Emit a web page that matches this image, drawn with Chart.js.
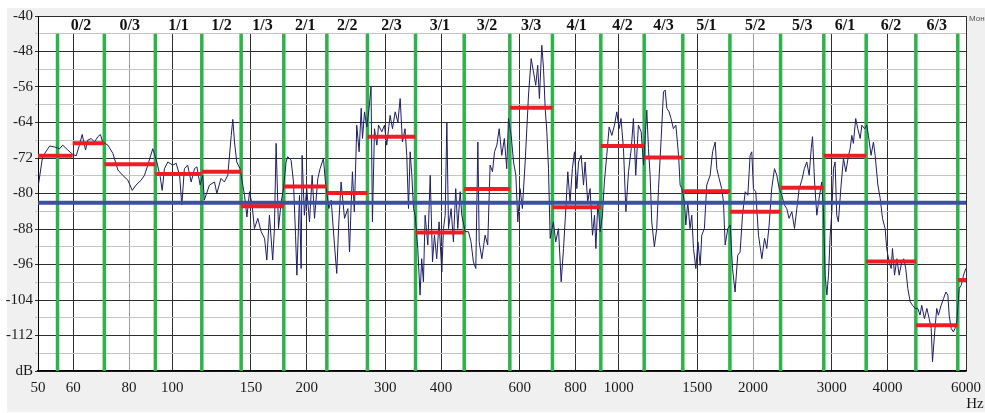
<!DOCTYPE html>
<html>
<head>
<meta charset="utf-8">
<script src="https://cdn.jsdelivr.net/npm/chart.js@4.4.1/dist/chart.umd.min.js"></script>
<style>
  html, body { margin: 0; padding: 0; background: #fff; }
  #wrap { width: 985px; height: 413px; }
  canvas { display: block; }
</style>
</head>
<body>
<div id="wrap"><canvas id="chart" width="985" height="413"></canvas></div>
<script>
// Bandas: etiquetas y bordes (Hz)
const bandLabels = ['0/2', '0/3', '1/1', '1/2', '1/3', '2/1', '2/2', '2/3', '3/1', '3/2',
                    '3/3', '4/1', '4/2', '4/3', '5/1', '5/2', '5/3', '6/1', '6/2', '6/3'];
const bandEdges = [55.3, 70.4, 91.6, 116.4, 142.6, 177.7, 221.9, 273.6, 350.6, 450.7, 570.3,
                   710.5, 911.9, 1140.5, 1392, 1775, 2305, 2881, 3585, 4632, 5751];

// Niveles medios (segmentos rojos): bordes en Hz y nivel en dB
const levelEdges = [50, 59.8, 70.4, 91.6, 116.4, 142.6, 177.7, 221.9, 273.6, 350.6, 450.7, 570.3,
                    710.5, 911.9, 1140.5, 1392, 1775, 2305, 2881, 3585, 4632, 5751, 6000];
const levelValues = [-71.5, -68.7, -73.4, -75.6, -75.1, -82.9, -78.4, -79.9, -67.2, -88.8, -79.0,
                     -60.7, -83.1, -69.3, -71.9, -79.5, -84.1, -78.7, -71.5, -95.3, -109.7, -99.5];

// Nivel de referencia (linea azul)
const referenceLevel = -82.1;

// Ejes
const xTicks = [50, 60, 80, 100, 150, 200, 300, 400, 600, 800, 1000, 1500, 2000, 3000, 4000, 6000];
const xLightTicks = [80, 2000];
const yMin = -120, yMax = -40, yStripLevel = -44;

// Espectro
const spectrumHz = [
  50.1, 51.2, 53.1, 54.4, 55.9, 56.8, 58.3, 59.8, 60.9, 61.9, 62.8, 63.9, 64.6, 65.8, 66.9, 68.1,
  69.0, 69.8, 71.7, 73.6, 75.5, 77.4, 79.5, 81.3, 82.9, 85.1, 86.6, 88.1, 90.4, 92.3, 93.9, 94.9,
  96.0, 97.7, 100.2, 102.0, 103.8, 105.0, 106.4, 108.2, 110.2, 112.1, 113.5, 115.4, 117.0, 117.9,
  121.1, 124.3, 125.8, 128.5, 130.8, 133.1, 135.5, 136.6, 137.8, 139.4, 141.8, 145.1, 146.9, 148.9,
  150.9, 152.7, 155.4, 158.1, 160.9, 162.8, 165.0, 167.8, 169.3, 170.8, 172.9, 175.3, 177.4, 179.8,
  181.3, 184.5, 186.8, 188.8, 190.1, 192.7, 194.3, 195.3, 197.6, 200.0, 202.9, 205.7, 208.2, 211.8,
  214.3, 218.0, 220.3, 224.2, 226.9, 230.8, 233.5, 235.9, 238.8, 243.1, 247.3, 249.4, 251.5,
  253.2, 255.7, 257.5, 258.9, 262.1, 264.9, 266.7, 269.5, 272.7, 275.9, 278.7, 280.7, 283.7, 287.2,
  289.7, 294.7, 298.7, 302.2, 307.5, 311.3, 315.7, 320.1, 323.9, 327.7, 332.1, 335.1, 338.1, 341.0,
  344.0, 347.0, 350.0, 354.7, 358.9, 361.9, 365.2, 368.4, 373.6, 378.2, 382.7, 386.6, 391.1, 395.9,
  401.5, 405.0, 408.6, 412.1, 415.6, 421.3, 426.3, 431.4, 436.0, 441.4, 445.2, 452.9, 460.7, 466.8,
  472.6, 478.5, 483.6, 486.9, 493.6, 502.0, 508.8, 515.1, 521.5, 527.0, 533.4, 539.8, 547.1, 554.4,
  561.3, 566.3, 574.3, 581.3, 588.3, 594.2, 601.2, 608.5, 617.2, 622.6, 628.0, 636.7, 644.3, 651.9,
  658.5, 664.3, 672.6, 678.5, 684.4, 690.3, 696.2, 702.2, 714.0, 722.6, 733.0, 743.3, 752.3, 761.4,
  769.1, 778.1, 787.5, 796.0, 805.8, 812.9, 824.1, 834.0, 841.0, 852.2, 862.8, 873.6, 882.8, 888.9,
  898.1, 908.8, 919.6, 928.8, 940.3, 952.0, 965.3, 978.6, 990.3, 1002, 1012, 1025, 1038, 1052,
  1067, 1079, 1092, 1107, 1123, 1137, 1147, 1156, 1166, 1176, 1186, 1202, 1217,
  1228, 1245, 1260, 1271, 1282, 1297, 1310, 1326, 1343, 1362, 1373, 1385, 1404, 1414, 1428, 1445,
  1458, 1471, 1489, 1505, 1523, 1535, 1556, 1575, 1603, 1623, 1645, 1659, 1679, 1701, 1717, 1732,
  1756, 1778, 1799, 1823, 1848, 1871, 1894, 1921, 1947, 1970, 1987, 2004, 2028, 2057, 2093, 2122,
  2147, 2173, 2202, 2234, 2261, 2289, 2320, 2352, 2380, 2408, 2443, 2477, 2507, 2537, 2572, 2606,
  2639, 2672, 2700, 2718, 2747, 2779, 2812, 2850, 2876, 2901, 2927, 2952, 2978, 3003, 3029, 3054,
  3080, 3106, 3150, 3189, 3228, 3273, 3301, 3329, 3356, 3397, 3433, 3476, 3506, 3555, 3597, 3627,
  3676, 3722, 3755, 3808, 3854, 3900, 3953, 3986, 4034, 4078, 4106, 4150, 4200, 4250, 4308, 4351,
  4397, 4444, 4499, 4554, 4616, 4679, 4734, 4774, 4843, 4903, 4962, 5014, 5048, 5099, 5159, 5203,
  5277, 5343, 5408, 5464, 5501, 5557, 5623, 5670, 5721, 5792, 5853, 5924, 5995
];
const spectrumDb = [
  -78.1, -71.7, -69.3, -69.5, -69.9, -69.1, -70.2, -71.2, -71.5, -69.1, -66.7, -70.2, -68.0, -67.6, -68.4, -67.2,
  -66.7, -68.4, -69.1, -71.0, -74.7, -75.9, -77.0, -79.3, -78.1, -77.0, -75.9, -73.6, -69.9, -72.9, -76.2, -79.3,
  -74.4, -72.9, -73.6, -73.2, -75.9, -82.6, -74.4, -73.6, -77.4, -74.4, -74.0, -78.1, -75.9, -81.5,
  -78.1, -77.4, -80.0, -76.6, -77.4, -75.9, -66.9, -63.3, -68.4, -72.9, -74.4, -80.4, -85.3, -79.6,
  -82.6, -87.9, -85.6, -88.6, -90.1, -95.0, -84.9, -95.0, -87.9, -68.7, -87.9, -81.9, -78.9, -72.9,
  -71.7, -72.5, -77.4, -89.4, -98.4, -80.4, -96.9, -71.4, -84.9, -78.9, -86.4, -75.9, -85.6, -76.6,
  -74.4, -72.1, -77.4, -83.4, -81.5, -91.6, -98.0, -87.1, -77.4, -85.6, -83.4, -93.2, -82.6,
  -75.1, -84.1, -73.6, -64.6, -70.6, -60.8, -67.6, -61.6, -65.0, -60.8, -56.0, -86.4, -65.4, -69.1,
  -64.6, -66.1, -64.6, -69.1, -62.4, -65.4, -61.6, -63.9, -58.6, -68.4, -65.4, -71.4, -83.4, -70.6,
  -75.9, -83.4, -84.9, -92.4, -102.9, -94.7, -99.9, -84.9, -91.6, -75.9, -95.4, -89.4, -94.7, -86.4,
  -97.7, -87.9, -84.9, -63.9, -87.9, -83.4, -90.9, -78.9, -87.9, -79.6, -84.9, -88.6, -88.6, -90.9,
  -95.4, -96.9, -68.4, -90.9, -94.7, -89.4, -91.6, -73.6, -75.1, -70.6, -69.1, -65.4, -71.4, -67.6,
  -74.4, -63.1, -66.9, -72.9, -75.9, -86.4, -78.9, -83.4, -72.9, -65.4, -57.8, -49.6, -52.6, -55.6,
  -51.1, -58.6, -46.6, -51.8, -60.8, -66.1, -74.4, -90.1, -86.4, -90.9, -87.9, -99.9, -92.4, -83.4,
  -75.1, -81.9, -74.4, -70.6, -78.9, -72.9, -71.4, -78.1, -72.9, -81.9, -78.9, -89.4, -84.9, -92.4,
  -81.9, -88.6, -84.9, -77.4, -71.4, -65.0, -66.9, -64.6, -61.6, -65.4, -63.1, -69.9, -84.1, -75.1,
  -69.9, -63.1, -75.9, -64.6, -66.1, -73.6, -66.9, -61.2, -69.9, -75.9, -86.4, -92.0, -87.9,
  -78.9, -67.6, -57.1, -56.7, -60.8, -61.6, -63.1, -65.4, -64.6, -71.4, -78.1, -78.9, -81.9, -87.1, -81.9, -87.9,
  -84.9, -92.4, -96.9, -90.9, -96.2, -89.4, -87.9, -78.1, -75.9, -70.6, -68.4, -74.4, -76.6, -78.9, -81.9, -91.6,
  -87.9, -87.1, -96.9, -102.2, -93.9, -93.2, -84.9, -79.6, -80.4, -71.4, -70.6, -78.9, -79.6, -89.4, -94.7, -90.1,
  -92.4, -87.1, -78.9, -74.4, -75.9, -78.9, -80.4, -82.6, -83.4, -85.6, -84.1, -87.9, -83.4, -78.9, -77.0, -74.4,
  -72.9, -75.9, -69.9, -67.2, -77.4, -84.9, -81.1, -77.4, -84.1, -98.4, -102.9, -98.4, -89.4, -84.1, -74.4, -72.9,
  -84.9, -86.4, -78.1, -72.1, -75.1, -71.4, -69.9, -66.9, -68.7, -63.1, -65.4, -67.6, -64.6, -65.4, -64.6, -66.9,
  -71.4, -68.4, -71.4, -78.1, -81.1, -85.6, -87.9, -92.4, -95.4, -96.9, -92.4, -98.4, -94.7, -98.4, -95.4, -94.7,
  -96.9, -101.4, -104.4, -105.2, -105.9, -105.9, -107.4, -105.2, -108.2, -105.9, -108.2, -110.4, -117.9, -111.9, -105.9, -107.4,
  -105.2, -103.7, -102.2, -102.9, -107.4, -110.4, -111.2, -110.4, -108.9, -101.4, -100.7, -98.4, -96.9
];

// Colores
const colors = {
  panel: '#eff0ef',
  band: '#2eb34b',
  level: '#ee1c25',
  reference: '#3c4fa0',
  spectrum: '#1d1d6b',
  gridMajor: '#2e2e2e',
  gridMinor: '#c4c4c4',
  gridLight: '#9c9c9c',
  text: '#1a1a1a'
};
const serif = '"Liberation Serif", "Times New Roman", serif';

// Fondo gris del panel y area blanca del grafico
const backgroundPlugin = {
  id: 'background',
  beforeDraw(chart) {
    const ctx = chart.ctx;
    const a = chart.chartArea;
    ctx.save();
    ctx.fillStyle = '#ffffff';
    ctx.fillRect(0, 0, chart.width, chart.height);
    ctx.fillStyle = colors.panel;
    ctx.fillRect(7, 8, chart.width - 7, chart.height - 9);
    ctx.fillStyle = '#ffffff';
    ctx.fillRect(a.left, a.top, a.right - a.left, a.bottom - a.top);
    ctx.restore();
  }
};

// Franja superior con los nombres de las bandas
const bandStripPlugin = {
  id: 'bandStrip',
  beforeDatasetsDraw(chart) {
    const ctx = chart.ctx;
    const a = chart.chartArea;
    const xScale = chart.scales.x;
    const stripBottom = Math.floor(chart.scales.y.getPixelForValue(yStripLevel));
    ctx.save();
    ctx.fillStyle = '#ffffff';
    ctx.fillRect(a.left + 1, a.top + 1, a.right - a.left - 2, stripBottom - a.top - 1);
    ctx.font = 'bold 16px ' + serif;
    ctx.fillStyle = '#111111';
    ctx.textAlign = 'center';
    ctx.textBaseline = 'middle';
    bandLabels.forEach((label, i) => {
      const cx = (xScale.getPixelForValue(bandEdges[i]) + xScale.getPixelForValue(bandEdges[i + 1])) / 2;
      ctx.fillText(label, cx, (a.top + stripBottom) / 2 + 1);
    });
    ctx.restore();
  },
  afterDraw(chart) {
    const ctx = chart.ctx;
    ctx.save();
    ctx.fillStyle = colors.text;
    ctx.font = '15px ' + serif;
    ctx.textAlign = 'center';
    ctx.textBaseline = 'middle';
    ctx.fillText('Hz', 975, 404);
    ctx.font = '8px "Liberation Sans", sans-serif';
    ctx.fillStyle = '#555555';
    ctx.textAlign = 'left';
    ctx.fillText('Моно', 969, 19);
    ctx.restore();
  }
};

// Construir datasets
function buildDatasets() {
  const datasets = [];

  // Niveles por banda
  levelValues.forEach((level, i) => {
    datasets.push({
      data: [{ x: levelEdges[i], y: level }, { x: levelEdges[i + 1], y: level }],
      borderColor: colors.level,
      borderWidth: 4,
      order: 1
    });
  });

  // Referencia
  datasets.push({
    data: [{ x: 50, y: referenceLevel }, { x: 6000, y: referenceLevel }],
    borderColor: colors.reference,
    borderWidth: 4,
    order: 2
  });

  // Espectro
  datasets.push({
    data: spectrumHz.map((f, i) => ({ x: f, y: spectrumDb[i] })),
    borderColor: colors.spectrum,
    borderWidth: 1,
    order: 3
  });

  // Bordes de banda
  bandEdges.forEach(edge => {
    datasets.push({
      data: [{ x: edge, y: yStripLevel }, { x: edge, y: yMin }],
      borderColor: colors.band,
      borderWidth: 3.5,
      order: 4
    });
  });

  return datasets;
}

const ctx = document.getElementById('chart').getContext('2d');
const chart = new Chart(ctx, {
  type: 'scatter',
  data: { datasets: buildDatasets() },
  options: {
    responsive: false,
    animation: false,
    devicePixelRatio: 1,
    layout: { padding: { left: 0, top: 16, right: 19, bottom: 0 } },
    elements: {
      point: { radius: 0, hoverRadius: 0 },
      line: { tension: 0, borderCapStyle: 'butt' }
    },
    datasets: { scatter: { showLine: true } },
    plugins: { legend: { display: false }, tooltip: { enabled: false } },
    scales: {
      x: {
        type: 'logarithmic',
        min: 50,
        max: 6000,
        afterBuildTicks: scale => { scale.ticks = xTicks.map(v => ({ value: v })); },
        afterFit: scale => {
          scale.height = 42;
          scale.paddingLeft = 0;
          scale.paddingRight = 0;
        },
        grid: {
          drawTicks: false,
          color: c => (c.tick && xLightTicks.includes(c.tick.value)) ? colors.gridLight : colors.gridMajor,
          lineWidth: 1
        },
        border: { color: '#000000', width: 1.5 },
        ticks: {
          autoSkip: false,
          maxRotation: 0,
          padding: 8,
          color: colors.text,
          font: { family: serif, size: 15 },
          callback: v => String(v)
        }
      },
      y: {
        min: yMin,
        max: yMax,
        afterFit: scale => {
          scale.width = 38;
          scale.paddingTop = 0;
          scale.paddingBottom = 0;
        },
        grid: {
          tickLength: 3,
          color: c => (c.tick && c.tick.value % 8 === 0) ? colors.gridMajor : colors.gridMinor,
          lineWidth: 1
        },
        border: { color: '#000000', width: 1 },
        ticks: {
          stepSize: 4,
          autoSkip: false,
          padding: 2,
          color: colors.text,
          font: { family: serif, size: 15 },
          callback: v => v === yMin ? 'dB' : (v % 8 === 0 ? String(v) : '')
        }
      }
    }
  },
  plugins: [backgroundPlugin, bandStripPlugin]
});
</script>
</body>
</html>
